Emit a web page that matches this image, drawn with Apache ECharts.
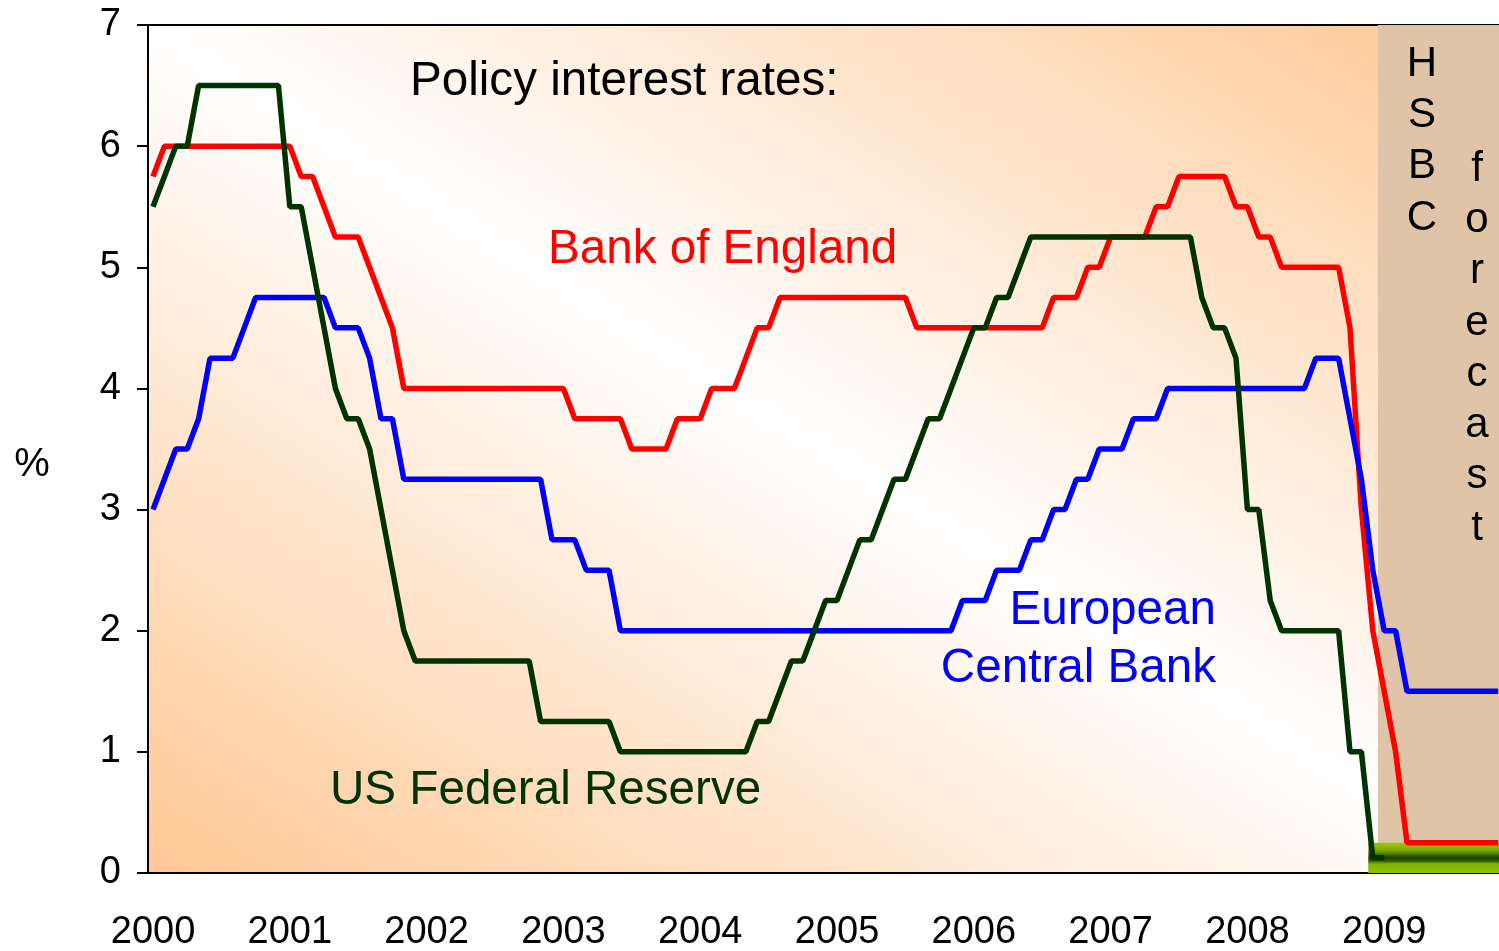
<!DOCTYPE html>
<html>
<head>
<meta charset="utf-8">
<script src="https://cdn.jsdelivr.net/npm/echarts@6/dist/echarts.min.js"></script>
<style>
html,body{margin:0;padding:0;background:#fff;}
#chart{width:1499px;height:951px;}
</style>
</head>
<body>
<div id="chart"></div>
<script>
// Monthly policy rates, index 0 = Jan 2000
var yearLabels = ['2000','2001','2002','2003','2004','2005','2006','2007','2008','2009'];
var yTickLabels = ['0','1','2','3','4','5','6','7'];

var bankOfEngland = [
  5.75,
  6.0,6.0,6.0,6.0,6.0,6.0,6.0,6.0,6.0,6.0,6.0,6.0,
  5.75,5.75,5.5,5.25,5.25,5.25,5.0,4.75,4.5,4.0,
  4.0,4.0,4.0,4.0,4.0,4.0,4.0,4.0,4.0,4.0,4.0,4.0,4.0,4.0,
  3.75,3.75,3.75,3.75,3.75,
  3.5,3.5,3.5,3.5,
  3.75,3.75,3.75,
  4.0,4.0,4.0,
  4.25,4.5,4.5,
  4.75,4.75,4.75,4.75,4.75,4.75,4.75,4.75,4.75,4.75,4.75,4.75,
  4.5,4.5,4.5,4.5,4.5,4.5,4.5,4.5,4.5,4.5,4.5,4.5,
  4.75,4.75,4.75,
  5.0,5.0,
  5.25,5.25,5.25,5.25,
  5.5,5.5,
  5.75,5.75,5.75,5.75,5.75,
  5.5,5.5,
  5.25,5.25,
  5.0,5.0,5.0,5.0,5.0,5.0,
  4.5,3.0,2.0,1.5,1.0,
  0.25,0.25,0.25,0.25,0.25,0.25,0.25,0.25,0.25
];

var europeanCentralBank = [
  3.0,3.25,3.5,3.5,3.75,4.25,4.25,4.25,4.5,
  4.75,4.75,4.75,4.75,4.75,4.75,4.75,
  4.5,4.5,4.5,
  4.25,3.75,3.75,
  3.25,3.25,3.25,3.25,3.25,3.25,3.25,3.25,3.25,3.25,3.25,3.25,3.25,
  2.75,2.75,2.75,
  2.5,2.5,2.5,
  2.0,2.0,2.0,2.0,2.0,2.0,2.0,2.0,2.0,2.0,
  2.0,2.0,2.0,2.0,2.0,2.0,2.0,2.0,2.0,2.0,
  2.0,2.0,2.0,2.0,2.0,2.0,2.0,2.0,2.0,2.0,
  2.25,2.25,2.25,
  2.5,2.5,2.5,
  2.75,2.75,
  3.0,3.0,
  3.25,3.25,
  3.5,3.5,3.5,
  3.75,3.75,3.75,
  4.0,4.0,4.0,4.0,4.0,4.0,4.0,4.0,4.0,4.0,4.0,4.0,4.0,
  4.25,4.25,4.25,
  3.75,3.25,2.5,2.0,2.0,
  1.5,1.5,1.5,1.5,1.5,1.5,1.5,1.5,1.5
];

var usFederalReserve = [
  5.5,5.75,6.0,6.0,
  6.5,6.5,6.5,6.5,6.5,6.5,6.5,6.5,
  5.5,5.5,5.0,4.5,4.0,3.75,3.75,3.5,3.0,2.5,2.0,
  1.75,1.75,1.75,1.75,1.75,1.75,1.75,1.75,1.75,1.75,1.75,
  1.25,1.25,1.25,1.25,1.25,1.25,1.25,
  1.0,1.0,1.0,1.0,1.0,1.0,1.0,1.0,1.0,1.0,1.0,1.0,
  1.25,1.25,1.5,1.75,1.75,2.0,2.25,2.25,2.5,2.75,2.75,3.0,
  3.25,3.25,3.5,3.75,3.75,4.0,4.25,4.5,4.5,4.75,4.75,5.0,
  5.25,5.25,5.25,5.25,5.25,5.25,5.25,5.25,5.25,5.25,5.25,5.25,5.25,5.25,5.25,
  4.75,4.5,4.5,4.25,3.0,3.0,2.25,
  2.0,2.0,2.0,2.0,2.0,2.0,
  1.0,1.0,0.125,0.125
];

var forecastStartMonth = 107.45;
var zeroBandStartMonth = 106.6;
var zeroBandTop = 0.25;

function pairs(arr){ return arr.map(function(v,i){ return [i, v]; }); }
var yearTickMonths = yearLabels.map(function(_, i){ return i * 12; });

var chart = echarts.init(document.getElementById('chart'), null, {renderer:'canvas'});
var FONT = '"Liberation Sans", Arial, sans-serif';

var bg = new echarts.graphic.LinearGradient(441.7, 1057.3, 1205.3, -159.3, [
  {offset:0, color:'#ffc894'},
  {offset:0.5, color:'#ffffff'},
  {offset:1, color:'#ffc894'}
], true);

var option = {
  animation: false,
  backgroundColor: '#ffffff',
  grid: {left:148, top:25, right:0, bottom:78, show:true, backgroundColor:bg, borderWidth:0, containLabel:false, outerBoundsMode:'none'},
  xAxis: [{
    type:'value', min:-0.44, max:118.07, position:'bottom',
    axisLine:{show:true, onZero:false, lineStyle:{color:'#000', width:2}},
    axisTick:{show:false},
    splitLine:{show:false},
    axisLabel:{
      customValues: yearTickMonths,
      formatter:function(v){ return yearLabels[Math.round(v/12)]; },
      color:'#000', fontSize:38, fontFamily:FONT, margin:41
    }
  },{
    type:'value', min:-0.44, max:118.07, position:'top',
    axisLine:{show:true, onZero:false, lineStyle:{color:'#000', width:2}},
    axisTick:{show:false}, axisLabel:{show:false}, splitLine:{show:false}
  }],
  yAxis: {
    type:'value', min:0, max:7, interval:1, position:'left',
    axisLine:{show:true, onZero:false, lineStyle:{color:'#000', width:2}},
    axisTick:{show:true, length:11, lineStyle:{color:'#000', width:2}},
    splitLine:{show:false},
    axisLabel:{
      formatter:function(v){ return yTickLabels[v]; },
      color:'#000', fontSize:38, fontFamily:FONT, margin:27
    }
  },
  series: [
    {
      name:'Bank of England', type:'line', data:pairs(bankOfEngland),
      showSymbol:false, symbol:'none', z:3,
      lineStyle:{color:'#ff0000', width:5.5},
      markArea:{
        silent:true,
        data:[
          [{xAxis:forecastStartMonth, itemStyle:{color:'#e0c4a8', opacity:1}}, {xAxis:118.07}],
          [{xAxis:zeroBandStartMonth, yAxis:0, itemStyle:{opacity:1, color:new echarts.graphic.LinearGradient(0,0,0,1,[
            {offset:0, color:'#9ccc00'},
            {offset:0.25, color:'#7aaa00'},
            {offset:0.4, color:'#3f6b00'},
            {offset:0.5, color:'#1c4000'},
            {offset:0.6, color:'#2e5a00'},
            {offset:0.7, color:'#7fb000'},
            {offset:1, color:'#92c400'}
          ])}}, {xAxis:118.07, yAxis:zeroBandTop}]
        ]
      }
    },
    {
      name:'European Central Bank', type:'line', data:pairs(europeanCentralBank),
      showSymbol:false, symbol:'none', z:3,
      lineStyle:{color:'#0000ff', width:5.5}
    },
    {
      name:'US Federal Reserve', type:'line', data:pairs(usFederalReserve),
      showSymbol:false, symbol:'none', z:4,
      lineStyle:{color:'#003300', width:5.5}
    }
  ],
  graphic: [
    {type:'text', x:32, y:465, style:{text:'%', fill:'#000', font:'40px ' + FONT, align:'center', verticalAlign:'middle'}},
    {type:'text', x:410, y:82, z:10, style:{text:'Policy interest rates:', fill:'#000', font:'47.6px ' + FONT, align:'left', verticalAlign:'middle'}},
    {type:'text', x:548, y:250, z:10, style:{text:'Bank of England', fill:'#ff0000', font:'47.6px ' + FONT, align:'left', verticalAlign:'middle'}},
    {type:'text', x:1216, y:611, z:10, style:{text:'European', fill:'#0000ff', font:'47.6px ' + FONT, align:'right', verticalAlign:'middle'}},
    {type:'text', x:1216, y:669, z:10, style:{text:'Central Bank', fill:'#0000ff', font:'47.6px ' + FONT, align:'right', verticalAlign:'middle'}},
    {type:'text', x:330, y:791, z:10, style:{text:'US Federal Reserve', fill:'#003300', font:'47.6px ' + FONT, align:'left', verticalAlign:'middle'}},
    {type:'text', x:1422, y:38.4, z:10, style:{text:'H\nS\nB\nC', fill:'#000', font:'42px ' + FONT, lineHeight:51.3, align:'center', verticalAlign:'top'}},
    {type:'text', x:1477, y:143.4, z:10, style:{text:'f\no\nr\ne\nc\na\ns\nt', fill:'#000', font:'42px ' + FONT, lineHeight:51.3, align:'center', verticalAlign:'top'}}
  ]
};
chart.setOption(option);
</script>
</body>
</html>
